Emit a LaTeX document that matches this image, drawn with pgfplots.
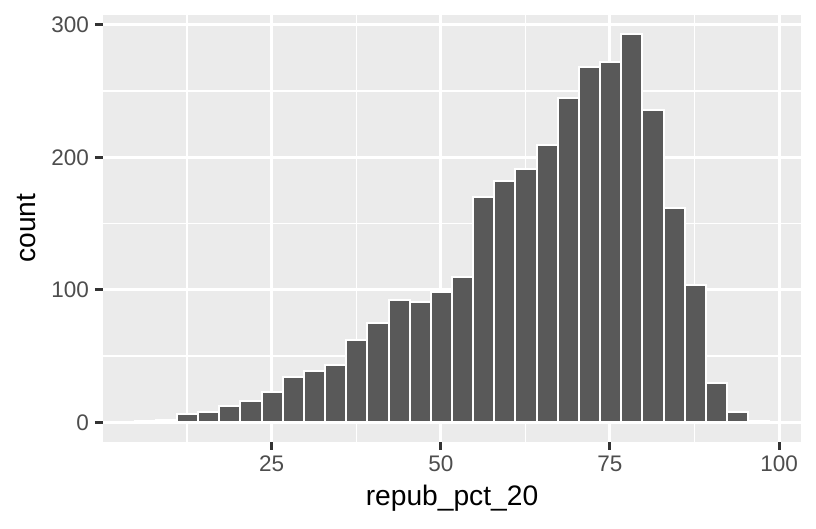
\documentclass[border=0pt]{standalone}
\usepackage{pgfplots}
\pgfplotsset{compat=1.18}
\usepackage{fontspec}
\setmainfont{Liberation Sans}
\definecolor{panelbg}{HTML}{EBEBEB}
\definecolor{barfill}{HTML}{595959}
\definecolor{ticklab}{HTML}{4D4D4D}
\definecolor{tickcol}{HTML}{333333}
\begin{document}
\begin{tikzpicture}
  \begin{axis}[
    scale only axis,
    width=698pt, height=427pt,
    xmin=0.06, xmax=103.25,
    ymin=-14.65, ymax=307.65,
    axis background/.style={fill=panelbg},
    axis line style={draw=none},
    tick pos=left,
    tick align=outside,
    major tick length=8pt,
    minor tick length=0pt,
    every tick/.style={draw=tickcol, line width=3pt},
    xtick={25,50,75,100},
    ytick={0,100,200,300},
    minor xtick={12.5,37.5,62.5,87.5},
    minor ytick={50,150,250},
    grid=both,
    major grid style={draw=white, line width=3pt},
    minor grid style={draw=white, line width=1.5pt},
    /pgf/number format/assume math mode=true,
    ticklabel style={font=\fontsize{22.5}{27}\selectfont, text=ticklab, inner sep=0pt},
    xticklabel shift=6pt,
    yticklabel shift=6pt,
    xlabel={repub\_pct\_20},
    ylabel={count},
    label style={font=\fontsize{28.2}{33}\selectfont, text=black, inner sep=0pt},
    xlabel style={at={(axis description cs:0.5,-0.1489)}, anchor=base},
    ylabel style={at={(axis description cs:-0.0964,0.5)}, anchor=base, rotate=0},
  ]
    \addplot[ybar, bar width=3.127, bar shift=0pt, fill=barfill, draw=white, line width=2pt]
      coordinates {
        (6.31,1) (9.44,2) (12.57,6) (15.69,8) (18.82,12) (21.95,16)
        (25.08,23) (28.20,34) (31.33,39) (34.46,43) (37.58,62) (40.71,75)
        (43.84,92) (46.97,91) (50.09,98) (53.22,110) (56.35,170) (59.47,182)
        (62.60,191) (65.73,209) (68.86,245) (71.98,268) (75.11,272) (78.24,293)
        (81.36,236) (84.49,162) (87.62,104) (90.75,30) (93.87,8) (97.00,1)
      };
    \coordinate (ll) at (rel axis cs:0,0);
    \coordinate (ur) at (rel axis cs:1,1);
  \end{axis}
  \path (ll) ++(-103pt,-86.3pt) coordinate (bbA);
  \path (ur) ++(15pt,14.7pt) coordinate (bbB);
  \pgfresetboundingbox
  \path (bbA) rectangle (bbB);
\end{tikzpicture}
\end{document}
